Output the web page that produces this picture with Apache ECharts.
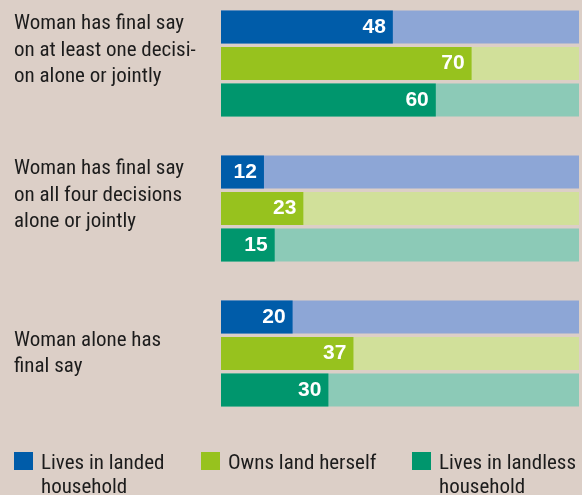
<!DOCTYPE html>
<html>
<head>
<meta charset="utf-8">
<script src="https://cdn.jsdelivr.net/npm/echarts@6/dist/echarts.min.js"></script>
<style>
  html, body { margin: 0; padding: 0; background: #dccfc7; }
  #chart { width: 582px; height: 495px; }
</style>
</head>
<body>
<div id="chart"></div>
<script>
// Survey groups (y axis) and share of women (%) in each household type
const categories = [
  'Woman has final say\non at least one decisi-\non alone or jointly',
  'Woman has final say\non all four decisions\nalone or jointly',
  'Woman alone has\nfinal say'
];
const seriesNames = ['Lives in landed household', 'Owns land herself', 'Lives in landless household'];
const landed = [48, 12, 20];
const ownsLand = [70, 23, 37];
const landless = [60, 15, 30];

const darkColors = ['#005ca9', '#97c21e', '#00966d'];
const lightColors = ['#8da6d6', '#d1e09a', '#8ccab7'];

// Pick a condensed face if one is installed
function hasFont(name) {
  const ctx = document.createElement('canvas').getContext('2d');
  const s = 'Woman has final say 0123';
  ctx.font = '40px monospace';
  const base = ctx.measureText(s).width;
  ctx.font = '40px "' + name + '", monospace';
  return ctx.measureText(s).width !== base;
}
const candidates = ['Liberation Sans Narrow', 'Roboto Condensed', 'DejaVu Sans Condensed', 'Liberation Sans'];
const textFont = candidates.find(hasFont) || 'sans-serif';

const values = [landed, ownsLand, landless];

const chart = echarts.init(document.getElementById('chart'), null, { renderer: 'canvas' });

const series = seriesNames.map(function (name, i) {
  return {
    name: name,
    type: 'bar',
    data: values[i],
    barWidth: 33,
    barGap: '10.6%',
    itemStyle: { color: darkColors[i] },
    showBackground: true,
    backgroundStyle: { color: lightColors[i] },
    label: {
      show: true,
      position: 'insideRight',
      distance: 7,
      color: '#ffffff',
      fontFamily: 'Liberation Sans',
      fontWeight: 'bold',
      fontSize: 21
    },
    silent: true,
    animation: false
  };
});

// Legend entries: icon beside the first line of a (possibly wrapped) name.
// Spacer lines above/below shift the text block so line one sits beside the icon.
const legendText = { fontFamily: textFont, fontSize: 21, color: '#1c1c1c', lineHeight: 23.5 };
function legendFor(i, left, twoLine) {
  return {
    data: [seriesNames[i]],
    left: left,
    top: twoLine ? 422.75 : 426.25,
    padding: 0,
    itemWidth: 19,
    itemHeight: 18,
    icon: 'rect',
    selectedMode: false,
    formatter: function (n) {
      if (twoLine) {
        const parts = n.replace(/ (household)$/, '\n$1').split('\n');
        return '{g1| }\n' + parts.map(function (p) { return '{t|' + p + '}'; }).join('\n');
      }
      return '{g2| }\n{t|' + n + '}\n{g3| }';
    },
    textStyle: Object.assign({
      padding: [0, 0, 0, 3],
      rich: {
        t: legendText,
        g1: Object.assign({}, legendText, { lineHeight: 29.5 }),
        g2: Object.assign({}, legendText, { lineHeight: 26 }),
        g3: Object.assign({}, legendText, { lineHeight: 20 })
      }
    }, legendText)
  };
}

chart.setOption({
  backgroundColor: '#dccfc7',
  animation: false,
  grid: { left: 221, right: 3, top: -9, height: 435, outerBoundsMode: 'none', containLabel: false },
  xAxis: { type: 'value', min: 0, max: 100, show: false },
  yAxis: {
    type: 'category',
    inverse: true,
    data: categories,
    axisLine: { show: false },
    axisTick: { show: false },
    axisLabel: {
      align: 'left',
      margin: 207,
      fontFamily: textFont,
      fontSize: 21,
      lineHeight: 26.5,
      color: '#1c1c1c',
      // three-line labels sit toward the top of their group
      formatter: function (v) {
        return v.split('\n').length > 2 ? v + '\n ' : v;
      }
    }
  },
  legend: [
    legendFor(0, 14, true),
    legendFor(1, 201, false),
    legendFor(2, 412, true)
  ],
  series: series
});
</script>
</body>
</html>
